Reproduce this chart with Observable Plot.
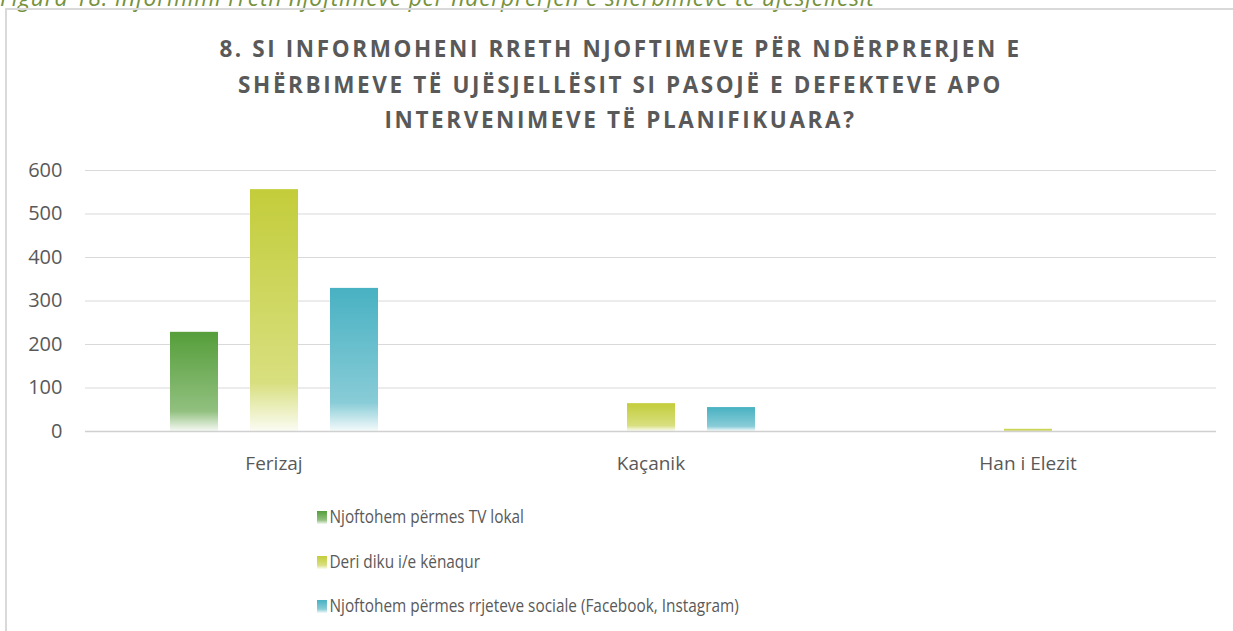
<!DOCTYPE html>
<html>
<head>
<meta charset="utf-8">
<script src="https://cdn.jsdelivr.net/npm/d3@7"></script>
<script src="https://cdn.jsdelivr.net/npm/@observablehq/plot@0.6"></script>
<style>
  html, body { margin: 0; padding: 0; background: #fff; }
  #wrap { position: relative; width: 1233px; height: 631px; overflow: hidden; font-family: "Open Sans", Lato, sans-serif; }
  #caption { position: absolute; left: 0; top: -17px; font-style: italic; font-size: 23px; letter-spacing: 0.7px; line-height: 28px; color: #76923c; white-space: nowrap; }
  #frame { position: absolute; left: 5px; top: 8px; width: 1240px; height: 640px; border-left: 2px solid #d9d9d9; border-top: 2px solid #d9d9d9; }
  #title { position: absolute; left: 0; width: 1241px; top: 31px; text-align: center; font-weight: bold; font-size: 22.5px; line-height: 35.5px; letter-spacing: 2.6px; color: #595959; }
  #chart { position: absolute; left: 0; top: 150px; }
  #legend { position: absolute; left: 317px; top: 503px; color: #595959; font-size: 18.5px; transform: scaleX(0.83); transform-origin: 0 0; }
  .item { height: 44.5px; display: flex; align-items: flex-start; white-space: nowrap; }
  .sw { width: 12px; height: 13px; margin-right: 3px; margin-top: 8px; }
</style>
</head>
<body>
<div id="wrap">
  <div id="caption"></div>
  <div id="frame"></div>
  <div id="title"></div>
  <div id="chart"></div>
  <div id="legend"></div>
</div>
<script>
const captionText = "Figura 18: Informimi rreth njoftimeve për ndërprerjen e shërbimeve të ujësjellësit";
const titleLines = [
  "8. SI INFORMOHENI RRETH NJOFTIMEVE PËR NDËRPRERJEN E",
  "SHËRBIMEVE TË UJËSJELLËSIT SI PASOJË E DEFEKTEVE APO",
  "INTERVENIMEVE TË PLANIFIKUARA?"
];
const cities = ["Ferizaj", "Kaçanik", "Han i Elezit"];
const series = [
  "Njoftohem përmes TV lokal",
  "Deri diku i/e kënaqur",
  "Njoftohem përmes rrjeteve sociale (Facebook, Instagram)"
];
const tvLokal = [228, 0, 0];
const deriDiku = [556, 64, 5];
const rrjeteSociale = [329, 55, 0];
const yTicks = [0, 100, 200, 300, 400, 500, 600];
const baseColors = ["#559e3a", "#c3cd3a", "#48b1c2"];

const valuesBySeries = [tvLokal, deriDiku, rrjeteSociale];
const data = [];
cities.forEach((c, i) => series.forEach((s, j) => data.push({city: c, series: s, value: valuesBySeries[j][i], k: j})));

document.getElementById("caption").textContent = captionText;
document.getElementById("title").innerHTML = titleLines.map(l => `<div>${l}</div>`).join("");

function mix(c, t) { return d3.interpolateRgb(c, "#ffffff")(t); }

const chart = Plot.plot({
  width: 1233,
  height: 340,
  marginLeft: 85,
  marginRight: 17,
  marginTop: 20,
  marginBottom: 59,
  style: {fontFamily: "'Open Sans', Lato, sans-serif", color: "#595959", background: "transparent"},
  fx: {domain: cities, paddingInner: 0, paddingOuter: 0, label: null},
  x: {domain: series, paddingInner: 0.4, paddingOuter: 1.056, axis: null},
  y: {domain: [0, 600], label: null},
  marks: [
    Plot.gridY(yTicks, {stroke: "#d9d9d9", strokeOpacity: 1, strokeWidth: 1}),
    Plot.axisY(yTicks, {tickSize: 0, tickPadding: 23, fontSize: 20, fill: "#595959", label: null}),
    Plot.axisFx({anchor: "bottom", tickSize: 0, tickPadding: 25, fontSize: 19, fill: "#595959", label: null}),
    ...series.map((s, j) => Plot.barY(data.filter(d => d.k === j), {fx: "city", x: "series", y: "value", fill: `url(#grad${j})`})),
    Plot.ruleY([0], {stroke: "#d0d0d0", strokeWidth: 1.5})
  ]
});

const defs = d3.select(chart).insert("defs", ":first-child");
baseColors.forEach((c, j) => {
  const g = defs.append("linearGradient").attr("id", `grad${j}`).attr("x1", 0).attr("y1", 0).attr("x2", 0).attr("y2", 1);
  g.append("stop").attr("offset", "0%").attr("stop-color", c);
  g.append("stop").attr("offset", "80%").attr("stop-color", mix(c, 0.35));
  g.append("stop").attr("offset", "100%").attr("stop-color", mix(c, 0.94));
});
document.getElementById("chart").appendChild(chart);

// legend
const legend = document.getElementById("legend");
series.forEach((s, j) => {
  const c = baseColors[j];
  const item = document.createElement("div");
  item.className = "item";
  item.innerHTML = `<div class="sw" style="background: linear-gradient(to bottom, ${c} 0%, ${mix(c, 0.35)} 70%, ${mix(c, 0.94)} 100%)"></div><span>${s}</span>`;
  legend.appendChild(item);
});
</script>
</body>
</html>
